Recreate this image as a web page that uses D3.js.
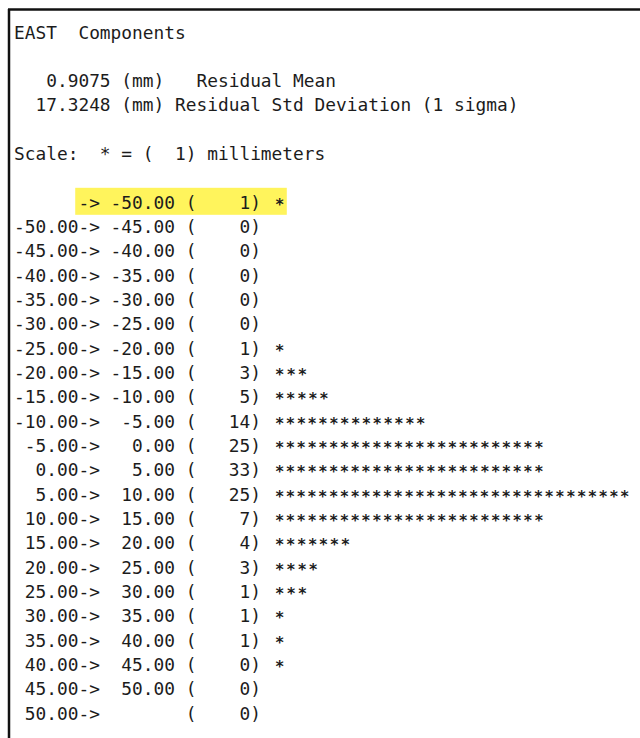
<!DOCTYPE html>
<html>
<head>
<meta charset="utf-8">
<script src="https://cdn.jsdelivr.net/npm/d3@7"></script>
<style>
  html, body { margin: 0; padding: 0; background: #ffffff; }
  svg { display: block; }
</style>
</head>
<body>
<svg id="chart" width="640" height="738"></svg>
<script>
// ---- data ----
const title = "EAST  Components";
const residualMean = "0.9075";
const residualStd = "17.3248";
const scaleUnit = 1;
const binLower = [null, -50, -45, -40, -35, -30, -25, -20, -15, -10, -5, 0, 5, 10, 15, 20, 25, 30, 35, 40, 45, 50];
const binUpper = [-50, -45, -40, -35, -30, -25, -20, -15, -10, -5, 0, 5, 10, 15, 20, 25, 30, 35, 40, 45, 50, null];
const counts   = [1, 0, 0, 0, 0, 0, 1, 3, 5, 14, 25, 33, 25, 7, 4, 3, 1, 1, 1, 0, 0, 0];
const stars    = [1, 0, 0, 0, 0, 0, 1, 3, 5, 14, 25, 25, 33, 25, 7, 4, 3, 1, 1, 1, 0, 0];
const highlightRows = [0];

// ---- layout ----
const svg = d3.select("#chart");
const charW = 10.74;
const fontSize = charW / 0.602;
const x0 = 14;
const lineY = d3.scaleLinear().domain([0, 1]).range([32, 32 + 24.33]);
const colX = d3.scaleLinear().domain([0, 1]).range([x0, x0 + charW]);

// frame
svg.append("line").attr("x1", 9).attr("x2", 9).attr("y1", 9).attr("y2", 738)
  .attr("stroke", "#111").attr("stroke-width", 2.5);
svg.append("line").attr("x1", 8).attr("x2", 640).attr("y1", 9.5).attr("y2", 9.5)
  .attr("stroke", "#111").attr("stroke-width", 2.5);

const pad = (s, n) => (" ".repeat(n) + s).slice(-n);
const fmt = v => v === null ? "" : v.toFixed(2);

const headerLines = [
  { i: 0, t: title },
  { i: 2, t: "   " + residualMean + " (mm)   Residual Mean" },
  { i: 3, t: "  " + residualStd + " (mm) Residual Std Deviation (1 sigma)" },
  { i: 5, t: "Scale:  * = (" + pad(String(scaleUnit), 3) + ") millimeters" }
];

const rowStart = 7;
const rows = counts.map((c, k) => ({
  k,
  line: rowStart + k,
  text: pad(fmt(binLower[k]), 6) + "->" + pad(fmt(binUpper[k]), 7) + " (" + pad(String(c), 5) + ")",
  stars: stars[k]
}));

// highlight
const hlStart = 5.7, hlLen = 19.7;
svg.selectAll("rect.hl").data(highlightRows).enter().append("rect")
  .attr("class", "hl")
  .attr("x", d => colX(hlStart))
  .attr("y", d => lineY(rowStart + d) - 14.5)
  .attr("width", colX(hlStart + hlLen) - colX(hlStart))
  .attr("height", 27)
  .attr("fill", "#fff45c");

const txt = sel => sel
  .attr("font-family", "'DejaVu Sans Mono', 'Liberation Mono', monospace")
  .attr("font-size", fontSize)
  .attr("fill", "#1c1c1c")
  .attr("dominant-baseline", "central")
  .style("white-space", "pre")
  .attr("xml:space", "preserve");

svg.selectAll("text.hdr").data(headerLines).enter().append("text")
  .attr("class", "hdr")
  .attr("x", colX(0))
  .attr("y", d => lineY(d.i))
  .text(d => d.t)
  .call(txt);

svg.selectAll("text.row").data(rows).enter().append("text")
  .attr("class", "row")
  .attr("x", colX(0))
  .attr("y", d => lineY(d.line))
  .text(d => d.text)
  .call(txt);

// star bars, drawn as characters positioned with the column scale
const starCol = 24.3;
svg.selectAll("text.star").data(rows.filter(d => d.stars > 0)).enter().append("text")
  .attr("class", "star")
  .attr("x", colX(starCol))
  .attr("y", d => lineY(d.line) + 2.5)
  .attr("textLength", d => colX(starCol + d.stars) - colX(starCol))
  .attr("lengthAdjust", "spacing")
  .text(d => "*".repeat(d.stars))
  .call(txt)
  .attr("font-size", 15.5)
  .attr("font-weight", "bold");
</script>
</body>
</html>
